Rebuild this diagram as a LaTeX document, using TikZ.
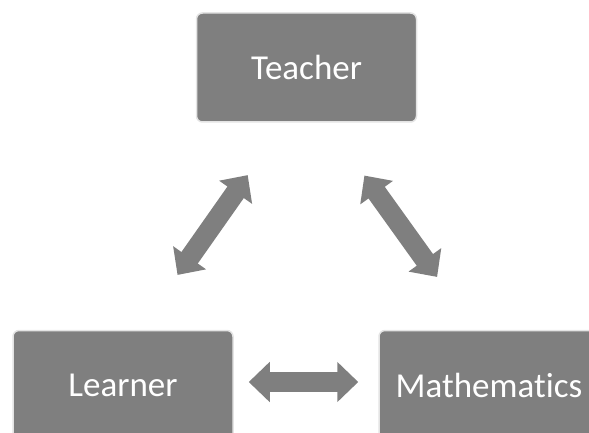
\documentclass[tikz,border=0pt]{standalone}
\usepackage{fontspec}
\setmainfont[Ligatures=NoCommon]{Carlito}
\usetikzlibrary{arrows.meta}

\definecolor{boxgray}{HTML}{7F7F7F}
\definecolor{rimgray}{HTML}{E4E4E4}

\tikzset{
  role/.style={rectangle, rounded corners=6pt, fill=boxgray, draw=rimgray, line width=1.5pt,
    minimum width=220pt, minimum height=109pt, text=white, font=\fontsize{35}{42}\selectfont},
  link/.style={draw=boxgray, line width=20pt,
    {Triangle[width=39pt,length=21pt]}-{Triangle[width=39pt,length=21pt]}}
}

\begin{document}
\begin{tikzpicture}[x=1pt, y=1pt]

\useasboundingbox (0,0) rectangle (589,432);
\clip (0,0) rectangle (589,432);

\node[role] (teacher) at (306.5, 364.5) {Teacher};
\node[role] (learner) at (123, 47) {Learner};
\node[role] (maths) at (489, 47) {Mathematics};

\draw[link, shorten <=67pt, shorten >=64pt] ([xshift=16pt]learner.north) -- ([xshift=-22pt]teacher.south);
\draw[link, shorten <=65pt, shorten >=65pt] ([xshift=20pt]teacher.south) -- ([xshift=-14pt]maths.north);
\draw[link, shorten <=15pt, shorten >=20pt] ([yshift=3pt]learner.east) -- ([yshift=3pt]maths.west);

\end{tikzpicture}
\end{document}
